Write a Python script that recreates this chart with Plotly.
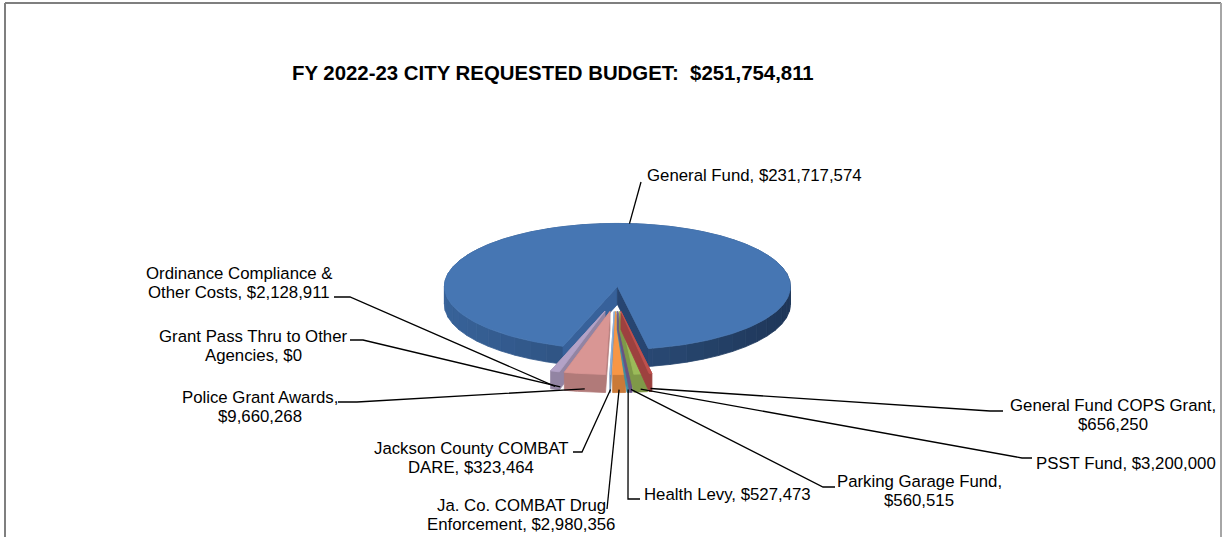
import numpy as np
import plotly.graph_objects as go

# ---- data -------------------------------------------------------------
CATEGORIES = [
    "General Fund",
    "General Fund COPS Grant",
    "PSST Fund",
    "Parking Garage Fund",
    "Health Levy",
    "Ja. Co. COMBAT Drug Enforcement",
    "Jackson County COMBAT DARE",
    "Police Grant Awards",
    "Grant Pass Thru to Other Agencies",
    "Ordinance Compliance & Other Costs",
]
VALUES = [231717574, 656250, 3200000, 560515, 527473, 2980356, 323464, 9660268, 0, 2128911]
TOP_COLORS = ["#4676B3", "#C0504D", "#9BBB59", "#8064A2", "#4BACC6",
              "#F79646", "#8EB1DA", "#D99694", "#C3D69B", "#B3A2C7"]
# number of words kept on the first line of each data label (0 = one line)
WRAP_AFTER = [0, 4, 0, 3, 0, 4, 3, 3, 5, 3]

# ---- label placement (pixel space) -----------------------------------
# (x, y of first line, xanchor)
LABEL_POS = [
    (645, 175, "left"),
    (1113, 405, "center"),
    (1126, 463, "center"),
    (919, 481, "center"),
    (642, 494, "left"),
    (521, 505, "center"),
    (471, 448, "center"),
    (260, 397, "center"),
    (253, 336, "center"),
    (239, 273, "center"),
]
LINE_GAP = 19
# leader line points on the label side, joined to the slice afterwards
LEADER_ENDS = [
    [(641, 182)],
    [(1003, 411), (990, 411)],
    [(1032, 458), (1022, 458)],
    [(835, 487), (823, 487)],
    [(640, 499), (628, 499)],
    [(607, 509)],
    [(573, 452), (582, 452)],
    [(338, 402), (357, 402)],
    [(350, 340), (363, 340)],
    [(334, 297), (350, 297)],
]

# ---- pie geometry (pixel space) --------------------------------------
CX, CY = 615.0, 299.0
RX, RY = 173.0, 63.0
DEPTH = 18.0
EXPLODE = 0.2
GAP_CENTER = 184.0      # direction (deg clockwise from 12 o'clock) of the small slices

W, H = 1222, 537
fig = go.Figure()


def shade(hex_color, f):
    h = hex_color.lstrip("#")
    r, g, b = (int(h[i:i + 2], 16) for i in (0, 2, 4))
    return "#{:02X}{:02X}{:02X}".format(int(r * f), int(g * f), int(b * f))


def mix(c1, c2, t):
    a = [int(c1.lstrip("#")[i:i + 2], 16) for i in (0, 2, 4)]
    b = [int(c2.lstrip("#")[i:i + 2], 16) for i in (0, 2, 4)]
    return "#{:02X}{:02X}{:02X}".format(*[int(a[k] + (b[k] - a[k]) * t) for k in range(3)])


def arc(cx, cy, a0, a1, n, dy=0.0):
    t = np.radians(np.linspace(a0, a1, n))
    return cx + RX * np.sin(t), cy - RY * np.cos(t) + dy


def add_poly(xs, ys, color, lw=0.8):
    xs = list(xs) + [xs[0]]
    ys = list(ys) + [ys[0]]
    fig.add_trace(go.Scatter(x=xs, y=ys, mode="lines", fill="toself",
                             fillcolor=color, line=dict(color=color, width=lw),
                             hoverinfo="skip", showlegend=False))


def hull(points):
    pts = sorted(set(points))
    if len(pts) < 3:
        return pts

    def cross(o, a, b):
        return (a[0] - o[0]) * (b[1] - o[1]) - (a[1] - o[1]) * (b[0] - o[0])

    lower, upper = [], []
    for p in pts:
        while len(lower) >= 2 and cross(lower[-2], lower[-1], p) <= 0:
            lower.pop()
        lower.append(p)
    for p in reversed(pts):
        while len(upper) >= 2 and cross(upper[-2], upper[-1], p) <= 0:
            upper.pop()
        upper.append(p)
    return lower[:-1] + upper[:-1]


total = float(sum(VALUES))
spans = 360.0 * np.array(VALUES, dtype=float) / total
start0 = GAP_CENTER + spans[1:].sum() / 2.0
starts = start0 + np.concatenate([[0.0], np.cumsum(spans)[:-1]])

slices = []
for i, v in enumerate(VALUES):
    a0 = starts[i]
    a1 = a0 + spans[i]
    mid = np.radians((a0 + a1) / 2.0)
    cx = CX + EXPLODE * RX * np.sin(mid)
    cy = CY - EXPLODE * RY * np.cos(mid)
    slices.append(dict(a0=a0, a1=a1, mid=(a0 + a1) / 2.0, cx=cx, cy=cy))

# ---- main slice: curved side with shading, notch walls, top face -----
g = slices[0]
side_left, side_right = "#38639A", "#1F3759"
step = 6.0
edges = np.arange(g["a0"], g["a1"], step).tolist() + [g["a1"]]
for s0, s1 in zip(edges[:-1], edges[1:]):
    m = np.radians((s0 + s1) / 2.0)
    if np.cos(m) > 0.35:
        col = shade(TOP_COLORS[0], 0.8)
    else:
        col = mix(side_left, side_right, (1 + np.sin(m)) / 2.0)
    tx, ty = arc(g["cx"], g["cy"], s0, s1, 6)
    bx, by = arc(g["cx"], g["cy"], s1, s0, 6, DEPTH)
    add_poly(np.concatenate([tx, bx]), np.concatenate([ty, by]), col)

for a, col in ((g["a0"], "#37619A"), (g["a1"], "#274571")):
    ex, ey = arc(g["cx"], g["cy"], a, a, 1)
    add_poly([g["cx"], ex[0], ex[0], g["cx"]],
             [g["cy"], ey[0], ey[0] + DEPTH, g["cy"] + DEPTH], col)

tx, ty = arc(g["cx"], g["cy"], g["a0"], g["a1"], 240)
add_poly(np.concatenate([[g["cx"]], tx]), np.concatenate([[g["cy"]], ty]), TOP_COLORS[0])

# ---- exploded small slices, outermost first ---------------------------
order = sorted(range(1, len(VALUES)), key=lambda k: -abs(slices[k]["mid"] - 180.0))
for k in order:
    if VALUES[k] <= 0:
        continue
    s = slices[k]
    n = max(3, int(spans[k] * 2) + 2)
    tx, ty = arc(s["cx"], s["cy"], s["a0"], s["a1"], n)
    top = [(s["cx"], s["cy"])] + list(zip(tx, ty))
    both = top + [(x, y + DEPTH) for x, y in top]
    hp = hull([(round(x, 3), round(y, 3)) for x, y in both])
    add_poly([p[0] for p in hp], [p[1] for p in hp], shade(TOP_COLORS[k], 0.82))
    add_poly([p[0] for p in top], [p[1] for p in top], TOP_COLORS[k])

# ---- leader lines ---------------------------------------------------
for i, s in enumerate(slices):
    m = np.radians(s["mid"])
    if i == 0:
        ax, ay = s["cx"] + RX * np.sin(m), s["cy"] - RY * np.cos(m)
    else:
        ax, ay = s["cx"] + RX * np.sin(m), s["cy"] - RY * np.cos(m) + DEPTH - 3
    pts = LEADER_ENDS[i] + [(ax, ay)]
    fig.add_trace(go.Scatter(x=[p[0] for p in pts], y=[p[1] for p in pts],
                             mode="lines", line=dict(color="#000000", width=1.3),
                             hoverinfo="skip", showlegend=False))

# ---- data labels ----------------------------------------------------
FONT = "Arial, 'Liberation Sans', sans-serif"
annotations = []
for i, name in enumerate(CATEGORIES):
    words = f"{name}, ${VALUES[i]:,}".split(" ")
    if WRAP_AFTER[i]:
        lines = [" ".join(words[:WRAP_AFTER[i]]), " ".join(words[WRAP_AFTER[i]:])]
    else:
        lines = [" ".join(words)]
    x, y, anchor = LABEL_POS[i]
    for j, line in enumerate(lines):
        annotations.append(dict(x=x, y=y + j * LINE_GAP, xref="x", yref="y",
                                text=line, showarrow=False, xanchor=anchor,
                                yanchor="middle",
                                font=dict(family=FONT, size=16.8, color="#000000")))

annotations.append(dict(
    x=553, y=73, xref="x", yref="y", showarrow=False, xanchor="center", yanchor="middle",
    text="<b>FY 2022-23 CITY REQUESTED BUDGET: \u00a0$" + f"{int(total):,}" + "</b>",
    font=dict(family=FONT, size=20.4, color="#000000")))

# chart area frame
shapes = [
    dict(type="line", xref="x", yref="y", x0=5, y0=3, x1=1221, y1=3,
         line=dict(color="#7F7F7F", width=2)),
    dict(type="line", xref="x", yref="y", x0=5, y0=3, x1=5, y1=H,
         line=dict(color="#7F7F7F", width=2)),
    dict(type="line", xref="x", yref="y", x0=1221, y0=3, x1=1221, y1=H,
         line=dict(color="#A6A6A6", width=2)),
]

fig.update_layout(
    width=W, height=H,
    margin=dict(l=0, r=0, t=0, b=0),
    paper_bgcolor="#FFFFFF", plot_bgcolor="#FFFFFF",
    xaxis=dict(range=[0, W], visible=False, fixedrange=True),
    yaxis=dict(range=[H, 0], visible=False, fixedrange=True),
    showlegend=False,
    annotations=annotations,
    shapes=shapes,
)

fig.write_html("out.html")
